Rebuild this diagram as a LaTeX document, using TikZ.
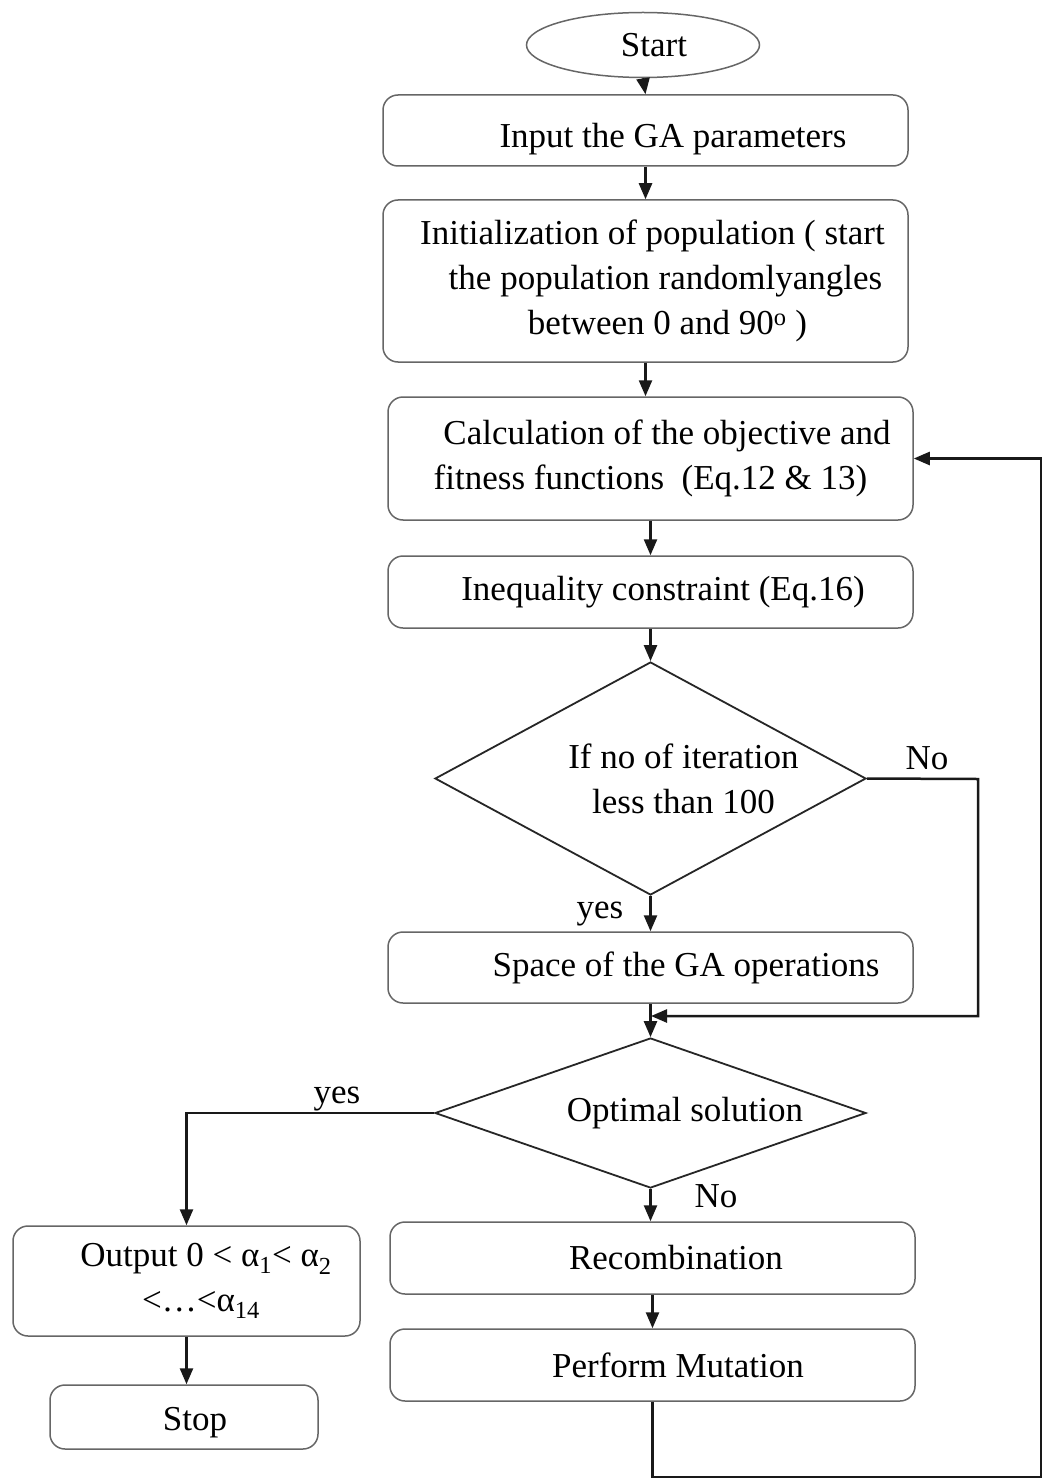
\documentclass[tikz,border=0pt]{standalone}
\usepackage{fontspec}
\setmainfont{Liberation Serif}
\usetikzlibrary{shapes.geometric,arrows.meta}
\begin{document}
\begin{tikzpicture}[x=1pt,y=-1pt,
  every node/.style={font=\fontsize{35}{45}\selectfont, text=black},
  procbox/.style={draw=black!60, line width=1.5pt, rounded corners=15pt, minimum width=525pt, inner sep=0pt, align=center},
  decbox/.style={draw=black!85, line width=1.8pt, shape=diamond, minimum width=431pt, inner sep=0pt},
  conn/.style={line width=2.5pt, draw=black!90, -{Triangle[length=16pt,width=13pt]}},
  lbl/.style={inner sep=0pt}
]
\useasboundingbox[fill=white] (0,0) rectangle (1046,1479);

\node[draw=black!60, line width=1.5pt, ellipse, minimum width=233pt, minimum height=65pt, inner sep=0pt] (start) at (643,45) {\hspace*{22pt}Start};
\node[procbox, minimum height=71pt] (input) at (645.5,130.5) {\hspace*{55pt}\rule{0pt}{42pt}Input the GA parameters};
\node[procbox, minimum height=162pt] (init) at (645.5,281) {\hspace*{14pt}Initialization of population ( start\\ \hspace*{40pt}the population randomlyangles\\ \hspace*{44pt}between 0 and 90\textsuperscript{o} )};
\node[procbox, minimum height=123pt] (calc) at (650.5,458.5) {\hspace*{33pt}Calculation of the objective and\\ fitness functions~ (Eq.12 \& 13)};
\node[procbox, minimum height=72pt] (ineq) at (650.5,592) {\hspace*{25pt}Inequality constraint (Eq.16)};
\node[decbox, minimum height=233pt, label={[align=center]center:{\hspace*{66pt}If no of iteration\\ \hspace*{66pt}less than 100}}] (d1) at (650.5,778.5) {};
\node[procbox, minimum height=71pt] (space) at (650.5,967.5) {\hspace*{71pt}Space of the GA operations};
\node[decbox, minimum height=150pt, label={center:{\hspace*{69pt}Optimal solution}}] (d2) at (650.5,1113) {};
\node[procbox, minimum height=72pt] (recomb) at (652.5,1258) {\hspace*{47pt}Recombination};
\node[procbox, minimum height=72pt] (mut) at (652.5,1365) {\hspace*{51pt}Perform Mutation};
\node[procbox, minimum width=347pt, minimum height=110pt] (out) at (186.5,1281) {\hspace*{39pt}Output 0 < α\textsubscript{1}< α\textsubscript{2}\\ \hspace*{29pt}<…<α\textsubscript{14}};
\node[procbox, minimum width=268pt, minimum height=64pt] (stop) at (184,1417) {\hspace*{22pt}\rule{0pt}{35pt}Stop};

\node[lbl] (no1) at (927,758) {No};
\node[lbl] (yes1) at (600,905) {\rule{0pt}{34pt}yes};
\node[lbl] (yes2) at (337,1090) {\rule{0pt}{34pt}yes};
\node[lbl] (no2) at (716,1196) {No};

\coordinate (jn) at (651,1016);
\coordinate (nr) at (978,779);
\coordinate (rb) at (1041,1477);

\draw[conn] (start.south) -- (input.north);
\draw[conn] (input.south) -- (init.north);
\draw[conn] (init.south) -- (init.south |- calc.north);
\draw[conn] (calc.south) -- (ineq.north);
\draw[conn] (ineq.south) -- (d1.north);
\draw[conn] (d1.south) -- (space.north);
\draw[conn] (d1.east) -- (nr) |- (jn);
\draw[conn] (space.south) -- (d2.north);
\draw[conn] (d2.west) -| (out.north);
\draw[conn] (d2.south) -- (d2.south |- recomb.north);
\draw[conn] (recomb.south) -- (mut.north);
\draw[conn] (out.south) -- (out.south |- stop.north);
\draw[conn] (mut.south) |- (rb) |- (calc.east);
\end{tikzpicture}
\end{document}
